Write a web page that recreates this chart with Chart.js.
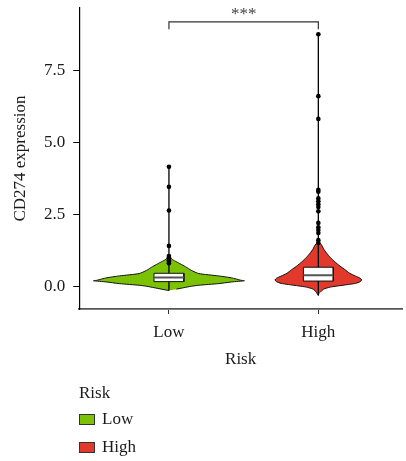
<!DOCTYPE html>
<html>
<head>
<meta charset="utf-8">
<script src="https://cdn.jsdelivr.net/npm/chart.js@4.4.1/dist/chart.umd.min.js"></script>
<style>
  html, body { margin: 0; padding: 0; background: #fff; }
  #wrap { position: relative; width: 406px; height: 461px; overflow: hidden; }
  #chart { position: absolute; left: 0; top: 0; }
  .lg { position: absolute; font-family: "Liberation Serif", "Times New Roman", serif; font-size: 17px; line-height: 20px; color: #1a1a1a; white-space: nowrap; }
  .sw { position: absolute; width: 16px; height: 11px; box-sizing: border-box; border: 1px solid #333; }
</style>
</head>
<body>
<div id="wrap">
  <canvas id="chart" width="406" height="461"></canvas>
  <div id="legend"></div>
</div>
<script>
// Groups and their fill colours
const categories = ['Low', 'High'];
const riskColors = ['#7CC204', '#E2392C'];

// Y axis ticks
const yTickValues = [0, 2.5, 5, 7.5];
const yTickLabels = ['0.0', '2.5', '5.0', '7.5'];

// Violin outlines: expression level and half width (in category units)
const lowViolinLevels    = [-0.15, -0.10, -0.05, 0.00, 0.035, 0.09, 0.15, 0.19, 0.21, 0.29, 0.36, 0.44, 0.55, 0.68, 0.78, 0.85, 0.92, 1.00, 1.10];
const lowViolinHalfWidth = [0.00, 0.05, 0.10, 0.15, 0.20, 0.33, 0.42, 0.505, 0.48, 0.42, 0.33, 0.20, 0.15, 0.11, 0.075, 0.05, 0.025, 0.01, 0.00];
const highViolinLevels    = [-0.32, -0.20, -0.10, -0.03, 0.01, 0.06, 0.10, 0.16, 0.22, 0.28, 0.35, 0.45, 0.57, 0.70, 0.85, 1.00, 1.15, 1.30, 1.43, 1.50, 1.60];
const highViolinHalfWidth = [0.00, 0.015, 0.035, 0.08, 0.13, 0.20, 0.25, 0.28, 0.29, 0.28, 0.25, 0.21, 0.18, 0.145, 0.11, 0.08, 0.055, 0.035, 0.022, 0.01, 0.00];

// Box statistics: [Q1, median, Q3]
const lowBox  = [0.16, 0.30, 0.45];
const highBox = [0.18, 0.38, 0.66];

// Full data range (min, max)
const lowRange  = [-0.15, 4.15];
const highRange = [-0.32, 8.75];

// Outlying samples
const lowOutliers  = [4.15, 3.45, 2.63, 1.40, 1.05, 1.00, 0.95, 0.90, 0.85, 0.80];
const highOutliers = [8.75, 6.60, 5.81, 3.35, 3.28, 3.05, 2.95, 2.85, 2.75, 2.60, 2.20, 2.05, 1.95, 1.85, 1.60, 1.50];

// Significance bracket: [tick end, bar level]
const bracketLevels = [8.92, 9.18];
const signifLabel = '***';

const serif = '"Liberation Serif", "Times New Roman", serif';
const textColor = '#1a1a1a';
const boxHalf = 0.1;

function violinPolygon(center, levels, half) {
  const pts = [];
  for (let i = 0; i < levels.length; i++) pts.push({ x: center - half[i], y: levels[i] });
  for (let i = levels.length - 2; i >= 1; i--) pts.push({ x: center + half[i], y: levels[i] });
  return pts;
}
function boxPolygon(center, stats) {
  return [
    { x: center - boxHalf, y: stats[0] }, { x: center - boxHalf, y: stats[2] },
    { x: center + boxHalf, y: stats[2] }, { x: center + boxHalf, y: stats[0] },
    { x: center - boxHalf, y: stats[0] }
  ];
}

const groups = [
  { levels: lowViolinLevels, half: lowViolinHalfWidth, box: lowBox, range: lowRange, outliers: lowOutliers },
  { levels: highViolinLevels, half: highViolinHalfWidth, box: highBox, range: highRange, outliers: highOutliers }
];

const datasets = [];
groups.forEach((g, i) => {
  const c = i + 1;
  datasets.push({
    label: categories[i] + ' violin', data: violinPolygon(c, g.levels, g.half),
    showLine: true, fill: 'shape', backgroundColor: riskColors[i], borderColor: '#111',
    borderWidth: 1, pointRadius: 0, tension: 0.2, order: 6
  });
  datasets.push({
    label: categories[i] + ' range', data: [{ x: c, y: g.range[0] }, { x: c, y: g.range[1] }],
    showLine: true, fill: false, borderColor: '#000', borderWidth: 1.3, pointRadius: 0, order: 5
  });
  datasets.push({
    label: categories[i] + ' outliers', data: g.outliers.map(v => ({ x: c, y: v })),
    showLine: false, pointRadius: 2.3, pointBackgroundColor: '#000', pointBorderColor: '#000',
    pointBorderWidth: 0, order: 4
  });
  datasets.push({
    label: categories[i] + ' box', data: boxPolygon(c, g.box),
    showLine: true, fill: 'shape', backgroundColor: '#fff', borderColor: '#111',
    borderWidth: 1, pointRadius: 0, tension: 0, order: 3
  });
  datasets.push({
    label: categories[i] + ' median', data: [{ x: c - boxHalf, y: g.box[1] }, { x: c + boxHalf, y: g.box[1] }],
    showLine: true, fill: false, borderColor: '#555', borderWidth: 2, pointRadius: 0, order: 2
  });
});
datasets.push({
  label: 'bracket',
  data: [{ x: 1, y: bracketLevels[0] }, { x: 1, y: bracketLevels[1] }, { x: 2, y: bracketLevels[1] }, { x: 2, y: bracketLevels[0] }],
  showLine: true, fill: false, borderColor: '#333', borderWidth: 1.2, pointRadius: 0, order: 1
});

const signifPlugin = {
  id: 'signif',
  afterDatasetsDraw(chart) {
    const { ctx, scales: { x, y } } = chart;
    ctx.save();
    ctx.font = '17px ' + serif;
    ctx.fillStyle = '#444';
    ctx.textAlign = 'center';
    ctx.textBaseline = 'middle';
    ctx.fillText(signifLabel, x.getPixelForValue(1.5), y.getPixelForValue(bracketLevels[1]) - 7);
    ctx.restore();
  }
};

const tickFont = { family: serif, size: 17 };

new Chart(document.getElementById('chart'), {
  type: 'scatter',
  data: { datasets },
  plugins: [signifPlugin],
  options: {
    responsive: false,
    animation: false,
    devicePixelRatio: 1,
    layout: { padding: { top: 8, bottom: 87, left: 0, right: 0 } },
    plugins: { legend: { display: false }, tooltip: { enabled: false } },
    scales: {
      x: {
        type: 'linear', min: 0.4, max: 2.56,
        afterBuildTicks: s => { s.ticks = categories.map((_, i) => ({ value: i + 1 })); },
        afterFit: s => { s.height = 65; s.paddingLeft = 0; s.paddingRight = 0; },
        ticks: { callback: v => categories[Math.round(v) - 1], font: tickFont, color: textColor, padding: 8, maxRotation: 0 },
        grid: { drawOnChartArea: false, tickLength: 5, color: '#333', tickWidth: 1 },
        border: { color: '#555', width: 1.8 },
        title: { display: true, text: 'Risk', font: tickFont, color: textColor, padding: { top: 4, bottom: 4 } }
      },
      y: {
        type: 'linear', min: -0.79, max: 9.66,
        afterBuildTicks: s => { s.ticks = yTickValues.map(v => ({ value: v })); },
        afterFit: s => { s.width = 79.3; s.paddingTop = 0; s.paddingBottom = 0; },
        ticks: { callback: v => yTickLabels[yTickValues.indexOf(v)], font: tickFont, color: textColor, padding: 8 },
        grid: { drawOnChartArea: false, tickLength: 6, color: '#000', tickWidth: 1 },
        border: { color: '#000', width: 1.2 },
        title: { display: true, text: 'CD274 expression', font: tickFont, color: textColor, padding: { top: 10, bottom: 0 } }
      }
    }
  }
});

// Legend drawn as HTML text below the plot
const legend = document.getElementById('legend');
const title = document.createElement('div');
title.className = 'lg';
title.style.left = '79px';
title.style.top = '383px';
title.textContent = 'Risk';
legend.appendChild(title);
categories.forEach((name, i) => {
  const top = 414 + i * 27.5;
  const sw = document.createElement('div');
  sw.className = 'sw';
  sw.style.left = '79px';
  sw.style.top = top + 'px';
  sw.style.background = riskColors[i];
  legend.appendChild(sw);
  const lab = document.createElement('div');
  lab.className = 'lg';
  lab.style.left = '102px';
  lab.style.top = (top - 5) + 'px';
  lab.textContent = name;
  legend.appendChild(lab);
});
</script>
</body>
</html>
